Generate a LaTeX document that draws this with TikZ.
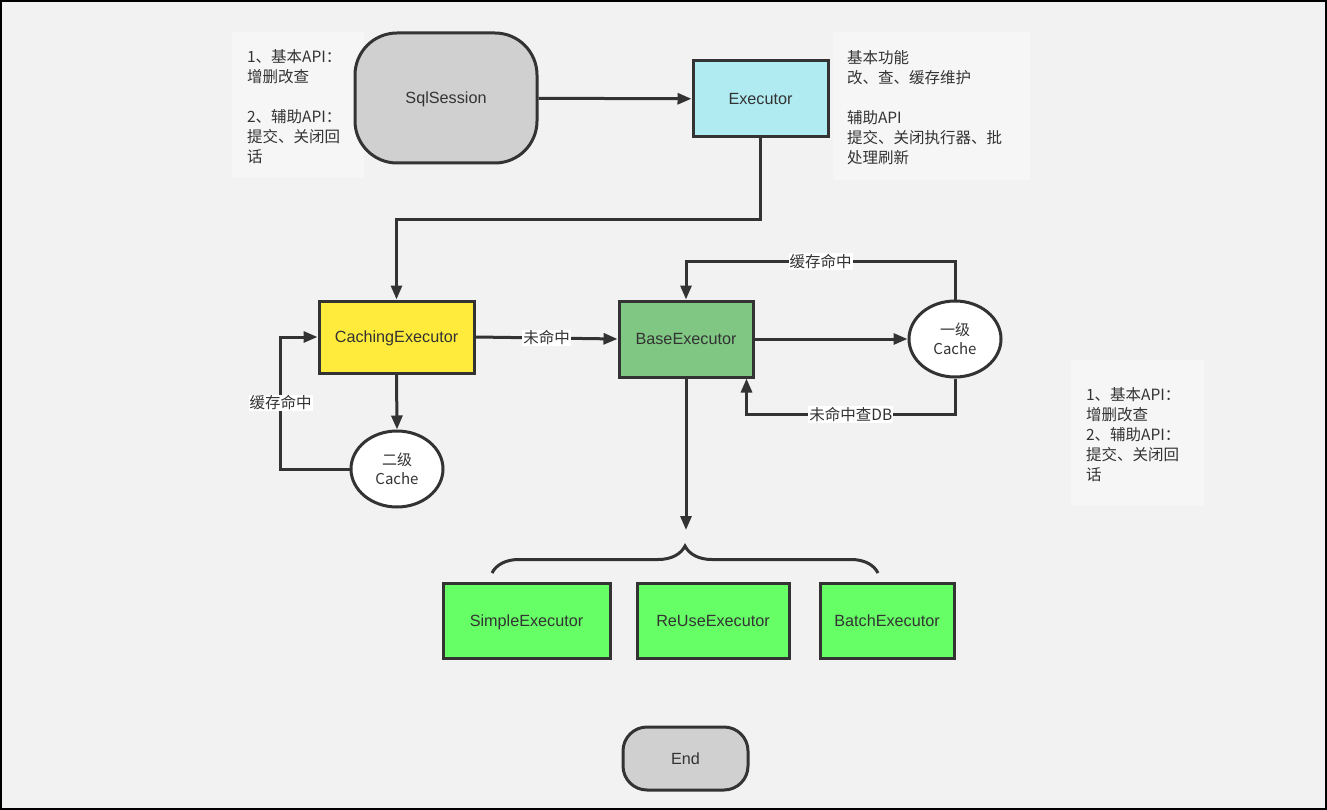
\documentclass[tikz,border=0pt]{standalone}
\usepackage{fontspec}
\setmainfont{Liberation Sans}
\newfontfamily\cjk{Noto Sans CJK SC}
\usetikzlibrary{shapes.geometric,arrows.meta,positioning,decorations.pathreplacing}
\definecolor{bgcol}{HTML}{F2F2F2}
\definecolor{notecol}{HTML}{F6F6F6}
\definecolor{linecol}{HTML}{333333}
\definecolor{termcol}{HTML}{D0D0D0}
\definecolor{execcol}{HTML}{B0EBF2}
\definecolor{cachcol}{HTML}{FFEB3B}
\definecolor{basecol}{HTML}{7FC782}
\definecolor{leafcol}{HTML}{66FF66}

\begin{document}
\begin{tikzpicture}[x=1pt,y=-1pt,font=\fontsize{16.2}{20}\selectfont,text=linecol,
    box/.style={draw=linecol,line width=3pt,inner sep=0pt,text height=13pt,text depth=2pt},
    term/.style={box,fill=termcol,rounded corners=42pt},
    cache/.style={draw=linecol,line width=3pt,inner sep=0pt,ellipse,fill=white,minimum width=92pt,minimum height=76pt,align=center,font=\cjk\fontsize{15}{19}\selectfont},
    leaf/.style={box,fill=leafcol,minimum height=75pt},
    notebox/.style={fill=notecol,inner sep=0pt},
    notetext/.style={inner sep=0pt,align=left,font=\cjk\fontsize{15.5}{20}\selectfont},
    tag/.style={fill=white,inner sep=1pt,font=\cjk\fontsize{15.5}{19}\selectfont},
    flow/.style={draw=linecol,line width=3pt,-{Triangle[length=14pt,width=11pt]}}]
    \fill[bgcol] (0,0) rectangle (1327,810);
    \draw[black,line width=2pt] (1,1) rectangle (1326,809);

    \node[notebox,minimum width=132pt,minimum height=146pt] (n1) at (298,105) {};
    \node[notetext,right=15pt of n1.west,yshift=-2pt] {1、基本API：\\增删改查\\[20pt]2、辅助API：\\提交、关闭回\\话};
    \node[notebox,minimum width=197pt,minimum height=148pt] (n2) at (931.5,106) {};
    \node[notetext,right=14pt of n2.west,yshift=-2pt] {基本功能\\改、查、缓存维护\\[20pt]辅助API\\提交、关闭执行器、批\\处理刷新};
    \node[notebox,minimum width=133pt,minimum height=146pt] (n3) at (1137.5,433) {};
    \node[notetext,right=15pt of n3.west,yshift=-2pt] {1、基本API：\\增删改查\\2、辅助API：\\提交、关闭回\\话};

    \node[term,minimum width=182pt,minimum height=130pt] (sql) at (446,98) {SqlSession};
    \node[box,fill=execcol,minimum width=135pt,minimum height=76pt] (exec) at (760.5,99) {Executor};
    \node[box,fill=cachcol,minimum width=155pt,minimum height=72pt] (cach) at (396.5,337) {CachingExecutor};
    \node[box,fill=basecol,minimum width=134pt,minimum height=76pt] (base) at (686,339) {BaseExecutor};
    \node[cache] (c2) at (397,469) {二级\\Cache};
    \node[cache] (c1) at (955,339) {一级\\Cache};
    \node[leaf,minimum width=167pt] (simple) at (526.5,620.5) {SimpleExecutor};
    \node[leaf,minimum width=152pt] (reuse) at (713,620.5) {ReUseExecutor};
    \node[leaf,minimum width=134pt] (batch) at (887,620.5) {BatchExecutor};
    \node[term,rounded corners=24pt,minimum width=125pt,minimum height=63pt] (end) at (685.5,758.5) {End};
    \coordinate (fork) at (686,530);

    \draw[flow] (sql) -- (exec);
    \draw[flow] (exec.south) -- ++(0,81) -| (cach.north);
    \draw[flow] (cach.east) -- (base.west) node[tag,midway] {未命中};
    \draw[flow] (cach.south) -- (c2.north);
    \draw[flow] (c2.west) -- ++(-69,0) coordinate (c2l) -- (c2l |- cach.west) node[tag,midway] {缓存命中} -- (cach.west);
    \draw[flow] (base.east) -- (c1.west);
    \draw[flow] (c1.north) -- ++(0,-38) -| (base.north) node[tag,pos=0.25] {缓存命中};
    \draw[flow] (c1.south) -- ++(0,36) -| ([xshift=-8pt]base.south east) node[tag,pos=0.25] {未命中查DB};
    \draw[flow] (base.south) -- (fork);
    \draw[draw=linecol,line width=3pt,decorate,decoration={brace,amplitude=27pt}] (492,573) -- (878,573);
\end{tikzpicture}
\end{document}
